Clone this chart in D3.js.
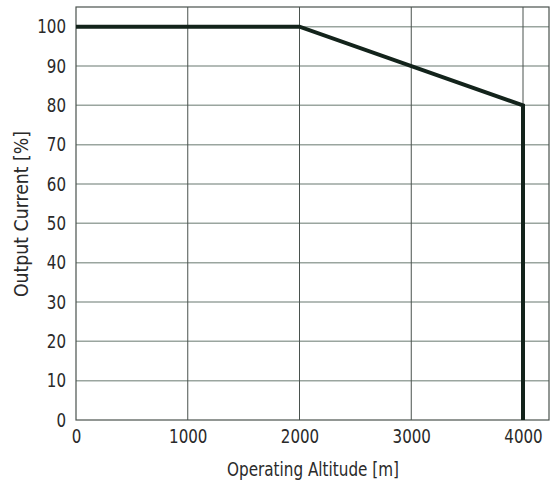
<!DOCTYPE html>
<html><head><meta charset="utf-8">
<script src="https://cdn.jsdelivr.net/npm/d3@7"></script>
<style>
body{margin:0;background:#fff;}
text{font-family:"Liberation Sans Narrow","DejaVu Sans Condensed","Roboto Condensed",sans-serif;font-stretch:condensed;fill:#2a2a2a;}
</style></head>
<body><svg id="c" width="552" height="488"></svg>
<script>
const altitude = [0, 2000, 4000, 4000];
const current = [100, 100, 80, 0];
const xTicks = [0, 1000, 2000, 3000, 4000];
const yTicks = [0, 10, 20, 30, 40, 50, 60, 70, 80, 90, 100];
const xLabel = "Operating Altitude [m]";
const yLabel = "Output Current [%]";

const svg = d3.select("#c");
const L = 76, R = 549, T = 7, B = 420;
const x = d3.scaleLinear().domain([0, 4000]).range([L, 523]);
const y = d3.scaleLinear().domain([0, 105]).range([B, T]);

// horizontal grid
svg.append("g").selectAll("line").data(yTicks.filter(d => d > 0)).join("line")
  .attr("x1", L).attr("x2", R).attr("y1", d => y(d)).attr("y2", d => y(d))
  .attr("stroke", "#9aa59f").attr("stroke-width", 1.5);
// vertical grid
svg.append("g").selectAll("line").data(xTicks.filter(d => d > 0)).join("line")
  .attr("y1", T).attr("y2", B).attr("x1", d => x(d)).attr("x2", d => x(d))
  .attr("stroke", "#4a524e").attr("stroke-width", 1);
// frame
svg.append("rect").attr("x", L).attr("y", T).attr("width", R - L).attr("height", B - T)
  .attr("fill", "none").attr("stroke", "#4a524e").attr("stroke-width", 1.2);

// axes via d3 axis generators (labels only)
const xa = svg.append("g").attr("transform", `translate(0,${B})`)
  .call(d3.axisBottom(x).tickValues(xTicks).tickFormat(d3.format("d")).tickSize(0).tickPadding(10));
const ya = svg.append("g").attr("transform", `translate(${L},0)`)
  .call(d3.axisLeft(y).tickValues(yTicks).tickFormat(d3.format("d")).tickSize(0).tickPadding(10));
[xa, ya].forEach(a => {
  a.select(".domain").remove();
  a.selectAll("text").attr("font-size", 19).attr("fill", "#2a2a2a")
    .style("font-family", '"Liberation Sans Narrow","DejaVu Sans Condensed",sans-serif')
    .attr("textLength", function () { return this.textContent.length * 9.6; })
    .attr("lengthAdjust", "spacingAndGlyphs");
});

// data line
const line = d3.line().x((d, i) => x(altitude[i])).y((d, i) => y(current[i]));
svg.append("path").datum(altitude).attr("d", line)
  .attr("fill", "none").attr("stroke", "#13231b").attr("stroke-width", 4).attr("stroke-linejoin", "miter");

svg.append("text").attr("x", 313).attr("y", 476).attr("text-anchor", "middle")
  .attr("font-size", 20).attr("textLength", 172).attr("lengthAdjust", "spacingAndGlyphs").text(xLabel);
svg.append("text").attr("transform", "translate(28,214) rotate(-90)").attr("text-anchor", "middle")
  .attr("font-size", 20).attr("textLength", 166).attr("lengthAdjust", "spacingAndGlyphs").text(yLabel);
</script></body></html>
